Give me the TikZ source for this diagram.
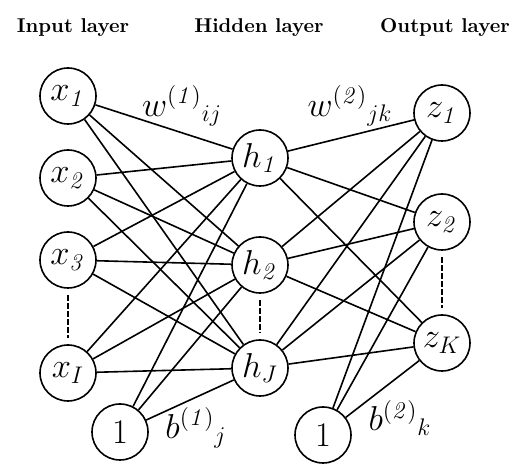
\documentclass[tikz,border=0pt]{standalone}

\begin{document}
\begin{tikzpicture}[x = 0.5pt, y = -0.5pt, thick,
	neuron/.style = {circle, draw, minimum size = 28pt, inner sep = 0pt, font = \LARGE},
	weight/.style = {font = \LARGE},
	title/.style = {font = \bfseries}]

\useasboundingbox (0,0) rectangle (520,464);

\node[title] (inlayer) at (73, 28) {Input layer};
\node[title] (hidlayer) at (259, 28) {Hidden layer};
\node[title] (outlayer) at (445, 28) {Output layer};

\foreach \lab/\y[count = \i] in {\mathit{1}/96, \mathit{2}/178, \mathit{3}/260, I/373} {
	\node[neuron] (x\i) at (68, \y) {$x_{\lab}$};
}
\foreach \lab/\y[count = \i] in {\mathit{1}/158, \mathit{2}/265, J/368} {
	\node[neuron] (h\i) at (260, \y) {$h_{\lab}$};
}
\foreach \lab/\y[count = \i] in {\mathit{1}/113, \mathit{2}/222, K/343} {
	\node[neuron] (z\i) at (442, \y) {$z_{\lab}$};
}
\node[neuron] (b1) at (120, 432) {$1$};
\node[neuron] (b2) at (323, 435) {$1$};

\foreach \i in {1, ..., 4} {
	\foreach \j in {1, 2, 3} {
		\draw (x\i) -- (h\j);
	}
}
\foreach \j in {1, 2, 3} {
	\draw (b1) -- (h\j);
	\draw (b2) -- (z\j);
	\foreach \k in {1, 2, 3} {
		\draw (h\j) -- (z\k);
	}
}

\draw[dash pattern = on 3pt off 1pt, shorten < = 3pt, shorten > = 3pt] (x3) -- (x4);
\draw[dash pattern = on 3pt off 1pt, shorten < = 3pt, shorten > = 3pt] (h2) -- (h3);
\draw[dash pattern = on 3pt off 1pt, shorten < = 3pt, shorten > = 3pt] (z2) -- (z3);

\node[weight] (w1) at (182, 106) {$w^{(\mathit{1})}{}_{ij}$};
\node[weight] (w2) at (350, 106) {$w^{(\mathit{2})}{}_{jk}$};
\node[weight] (c1) at (196, 428) {$b^{(\mathit{1})}{}_{j}$};
\node[weight] (c2) at (400, 418) {$b^{(\mathit{2})}{}_{k}$};

\end{tikzpicture}
\end{document}
